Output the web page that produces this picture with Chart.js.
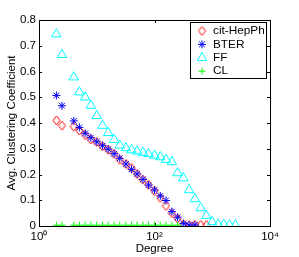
<!DOCTYPE html>
<html>
<head>
<meta charset="utf-8">
<script src="https://cdn.jsdelivr.net/npm/chart.js@4/dist/chart.umd.min.js"></script>
<style>
  html, body { margin: 0; padding: 0; background: #fff; }
  canvas { display: block; }
</style>
</head>
<body>
<canvas id="chart" width="299" height="257"></canvas>
<script>
// degree bins (log spaced)
const citDegree = [2, 2.5, 4, 5, 6.3, 7.9, 10, 12.6, 15.8, 20, 25, 32, 40, 50, 63, 79, 100, 126, 158, 200, 251, 316, 398, 501, 631, 794];
const citValues = [0.41, 0.39, 0.386, 0.371, 0.353, 0.336, 0.326, 0.31, 0.296, 0.28, 0.257, 0.241, 0.225, 0.202, 0.18, 0.16, 0.136, 0.109, 0.078, 0.05, 0.029, 0.006, 0.004, 0.004, 0.004, 0.004];

const bterDegree = [2, 2.5, 4, 5, 6.3, 7.9, 10, 12.6, 15.8, 20, 25, 32, 40, 50, 63, 79, 100, 126, 158, 200, 251, 316, 398, 501];
const bterValues = [0.507, 0.467, 0.408, 0.383, 0.36, 0.343, 0.327, 0.312, 0.298, 0.281, 0.263, 0.241, 0.22, 0.202, 0.181, 0.159, 0.14, 0.117, 0.099, 0.056, 0.034, 0.01, 0.004, 0.004];

const ffDegree = [2, 2.5, 4, 5, 6.3, 7.9, 10, 12.6, 15.8, 20, 25, 32, 40, 50, 63, 79, 100, 126, 158, 200, 251, 316, 398, 501, 631, 794, 1000, 1259, 1585, 1995, 2512];
const ffValues = [0.745, 0.665, 0.578, 0.52, 0.5, 0.468, 0.428, 0.39, 0.362, 0.335, 0.313, 0.303, 0.295, 0.29, 0.285, 0.28, 0.274, 0.268, 0.258, 0.249, 0.206, 0.186, 0.14, 0.105, 0.07, 0.04, 0.016, 0.006, 0.005, 0.004, 0.004];

const clDegree = [2, 2.5, 4, 5, 6.3, 7.9, 10, 12.6, 15.8, 20, 25, 32, 40, 50, 63, 79, 100, 126, 158, 200, 251];
const clValues = [0.003, 0.003, 0.003, 0.003, 0.003, 0.003, 0.003, 0.003, 0.003, 0.003, 0.003, 0.003, 0.003, 0.003, 0.003, 0.003, 0.003, 0.003, 0.003, 0.003, 0.003];

const xTicks = [1, 100, 10000];
const xTickLabels = ['10\u2070', '10\u00B2', '10\u2074'];
const yTicks = [0, 0.1, 0.2, 0.3, 0.4, 0.5, 0.6, 0.7, 0.8];

const FONT = '"Liberation Sans", Arial, Helvetica, sans-serif';

function pts(xs, ys) {
  return xs.map((x, i) => ({ x: x, y: ys[i] }));
}

// matlab 'd' marker is a bit taller than wide
function diamondMarker(color) {
  const c = document.createElement('canvas');
  c.width = 9; c.height = 11;
  const g = c.getContext('2d');
  g.strokeStyle = color;
  g.lineWidth = 1;
  g.beginPath();
  g.moveTo(4.5, 1);
  g.lineTo(8, 5.5);
  g.lineTo(4.5, 10);
  g.lineTo(1, 5.5);
  g.closePath();
  g.stroke();
  return c;
}

// matlab-like box with inward ticks
const frame = {
  id: 'frame',
  beforeDatasetsDraw(chart) {
    const ctx = chart.ctx;
    const a = chart.chartArea;
    const xs = chart.scales.x, ys = chart.scales.y;
    ctx.save();
    ctx.strokeStyle = '#000';
    ctx.lineWidth = 1;
    ctx.strokeRect(Math.round(a.left) + 0.5, Math.round(a.top) + 0.5,
      Math.round(a.right - a.left), Math.round(a.bottom - a.top));
    ctx.beginPath();
    xTicks.forEach(v => {
      const px = Math.round(xs.getPixelForValue(v)) + 0.5;
      ctx.moveTo(px, a.bottom); ctx.lineTo(px, a.bottom - 3);
      ctx.moveTo(px, a.top); ctx.lineTo(px, a.top + 3);
    });
    yTicks.forEach(v => {
      const py = Math.round(ys.getPixelForValue(v)) + 0.5;
      ctx.moveTo(a.left, py); ctx.lineTo(a.left + 3, py);
      ctx.moveTo(a.right, py); ctx.lineTo(a.right - 3, py);
    });
    ctx.stroke();
    ctx.restore();
  }
};

// boxed legend in the upper right corner
const boxLegend = {
  id: 'boxLegend',
  afterDraw(chart) {
    const ctx = chart.ctx;
    ctx.save();
    ctx.fillStyle = '#fff';
    ctx.fillRect(191, 23, 76, 56);
    ctx.strokeStyle = '#000';
    ctx.lineWidth = 1;
    ctx.strokeRect(190.5, 22.5, 76, 56);
    chart.data.datasets.forEach((ds, i) => {
      const y = 31 + i * 13.4;
      ctx.strokeStyle = ds.borderColor;
      ctx.fillStyle = 'rgba(0,0,0,0)';
      ctx.lineWidth = 1;
      Chart.helpers.drawPoint(ctx, {
        pointStyle: ds.pointStyle,
        radius: ds.pointRadius,
        borderWidth: 1,
        rotation: 0
      }, 202, y);
      ctx.fillStyle = '#000';
      ctx.font = '11.8px ' + FONT;
      ctx.textBaseline = 'middle';
      ctx.textAlign = 'left';
      ctx.fillText(ds.label, 213, y);
    });
    ctx.restore();
  }
};

new Chart(document.getElementById('chart'), {
  type: 'scatter',
  data: {
    datasets: [
      { label: 'cit-HepPh', data: pts(citDegree, citValues), pointStyle: diamondMarker('#ff0000'), pointRadius: 4.5,
        borderColor: '#ff0000', backgroundColor: 'rgba(0,0,0,0)', borderWidth: 1, order: 4 },
      { label: 'BTER', data: pts(bterDegree, bterValues), pointStyle: 'star', pointRadius: 4,
        borderColor: '#0000ff', backgroundColor: 'rgba(0,0,0,0)', borderWidth: 1, order: 3 },
      { label: 'FF', data: pts(ffDegree, ffValues), pointStyle: 'triangle', pointRadius: 5.5,
        borderColor: '#00ffff', backgroundColor: 'rgba(0,0,0,0)', borderWidth: 1, order: 2 },
      { label: 'CL', data: pts(clDegree, clValues), pointStyle: 'cross', pointRadius: 3.5,
        borderColor: '#00ff00', backgroundColor: 'rgba(0,0,0,0)', borderWidth: 1, order: 1 }
    ]
  },
  options: {
    responsive: false,
    animation: false,
    devicePixelRatio: 1,
    layout: { padding: { top: 20, right: 29, left: 0, bottom: 0 } },
    plugins: {
      legend: { display: false },
      tooltip: { enabled: false }
    },
    scales: {
      x: {
        type: 'logarithmic',
        min: 1,
        max: 10000,
        grid: { display: false, drawTicks: false },
        border: { display: false },
        afterBuildTicks: s => { s.ticks = xTicks.map(v => ({ value: v })); },
        afterFit: s => { s.height = 31; },
        ticks: {
          autoSkip: false,
          maxRotation: 0,
          padding: 4,
          color: '#000',
          font: { family: FONT, size: 11.5 },
          callback: (v) => xTickLabels[xTicks.indexOf(v)]
        },
        title: {
          display: true,
          text: 'Degree',
          color: '#000',
          font: { family: FONT, size: 11.5 },
          padding: { top: 0, bottom: 1 }
        }
      },
      y: {
        min: 0,
        max: 0.8,
        grid: { display: false, drawTicks: false },
        border: { display: false },
        afterBuildTicks: s => { s.ticks = yTicks.map(v => ({ value: v })); },
        afterFit: s => { s.width = 39; },
        ticks: {
          padding: 3,
          color: '#000',
          font: { family: FONT, size: 11.5 },
          callback: (v) => v === 0 ? '0' : v.toFixed(1)
        },
        title: {
          display: true,
          text: 'Avg. Clustering Coefficient',
          color: '#000',
          font: { family: FONT, size: 11.5 },
          padding: { top: 5, bottom: 0 }
        }
      }
    }
  },
  plugins: [frame, boxLegend]
});
</script>
</body>
</html>
